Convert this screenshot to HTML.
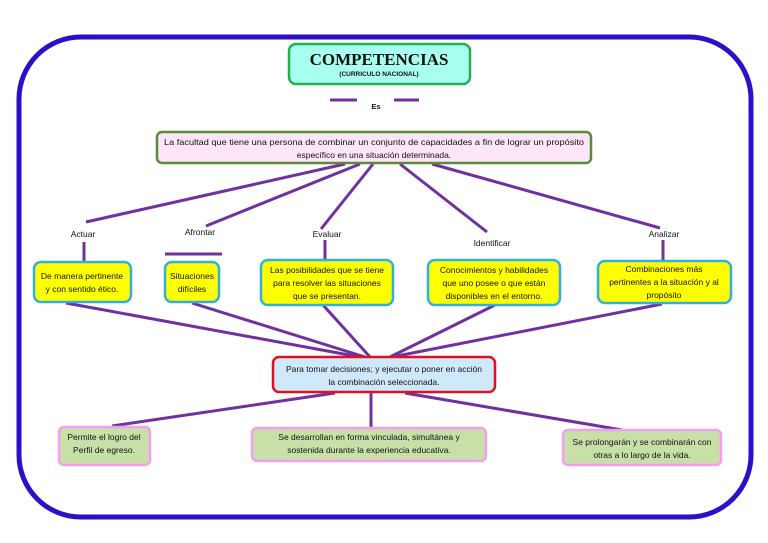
<!DOCTYPE html>
<html><head><meta charset="utf-8"><style>
html,body{margin:0;padding:0;background:#fff;}
svg{display:block;}
text{font-family:"Liberation Sans",sans-serif;font-size:8.5px;fill:#111;text-anchor:middle;}
.b{font-weight:bold;}
</style></head><body>
<svg width="768" height="543" viewBox="0 0 768 543" xmlns="http://www.w3.org/2000/svg">
<rect x="19" y="37" width="732" height="480" rx="62" fill="#fff" stroke="#2a10c8" stroke-width="5"/>
<g stroke="#7030a0" stroke-width="3" fill="none">
<line x1="330" y1="100" x2="357" y2="100"/><line x1="394" y1="100" x2="419" y2="100"/>
<line x1="345" y1="164" x2="86" y2="222"/>
<line x1="360" y1="164" x2="206" y2="226"/>
<line x1="373" y1="164" x2="321" y2="229"/>
<line x1="400" y1="164" x2="487" y2="232"/>
<line x1="432" y1="164" x2="660" y2="228"/>
<line x1="84" y1="242" x2="84" y2="261"/>
<line x1="325" y1="240" x2="325" y2="259"/>
<line x1="663" y1="240" x2="663" y2="260"/>
<line x1="165" y1="254" x2="222" y2="254"/>
<line x1="66" y1="303" x2="360" y2="357"/>
<line x1="192" y1="303" x2="365" y2="357"/>
<line x1="323" y1="305" x2="370" y2="357"/>
<line x1="495" y1="305" x2="390" y2="357"/>
<line x1="662" y1="304" x2="392" y2="357"/>
<line x1="335" y1="393" x2="112" y2="426"/>
<line x1="371" y1="393" x2="371" y2="427"/>
<line x1="405" y1="393" x2="622" y2="430"/>
</g>
<rect x="289" y="44" width="181" height="40" rx="7" fill="#a8fff0" stroke="#20b050" stroke-width="2.5"/>
<text x="379" y="65" style="font-family:'Liberation Serif',serif;font-size:17px;font-weight:bold">COMPETENCIAS</text>
<text x="379" y="76" class="b" style="font-size:6.5px">(CURRICULO NACIONAL)</text>
<text x="376" y="109" class="b" style="font-size:7.5px">Es</text>
<rect x="157" y="132" width="434" height="31" rx="5" fill="#fde6f8" stroke="#5a8a3a" stroke-width="2.5"/>
<text x="374" y="145" textLength="420" lengthAdjust="spacingAndGlyphs">La facultad que tiene una persona de combinar un conjunto de capacidades a fin de lograr un propósito</text>
<text x="374" y="158">específico en una situación determinada.</text>
<text x="83" y="237">Actuar</text>
<text x="200" y="235">Afrontar</text>
<text x="327" y="237">Evaluar</text>
<text x="492" y="246">Identificar</text>
<text x="664" y="237">Analizar</text>
<g fill="#ffff00" stroke="#30b0e0" stroke-width="2.5">
<rect x="34" y="262" width="97" height="40" rx="7"/>
<rect x="165" y="262" width="54" height="40" rx="7"/>
<rect x="261" y="260" width="132" height="45" rx="7"/>
<rect x="428" y="260" width="132" height="45" rx="7"/>
<rect x="598" y="261" width="133" height="42" rx="7"/>
</g>
<text x="82" y="279">De manera pertinente</text>
<text x="82" y="292">y con sentido ético.</text>
<text x="192" y="279">Situaciones</text>
<text x="192" y="292">difíciles</text>
<text x="327" y="273">Las posibilidades que se tiene</text>
<text x="327" y="286">para resolver las situaciones</text>
<text x="327" y="299">que se presentan.</text>
<text x="494" y="273">Conocimientos y habilidades</text>
<text x="494" y="286">que uno posee o que están</text>
<text x="494" y="299">disponibles en el entorno.</text>
<text x="664" y="272">Combinaciones más</text>
<text x="664" y="285">pertinentes a la situación y al</text>
<text x="664" y="298">propósito</text>
<rect x="273" y="357" width="222" height="35" rx="6" fill="#cfe8fa" stroke="#e01020" stroke-width="2.5"/>
<text x="384" y="372">Para tomar decisiones; y ejecutar o poner en acción</text>
<text x="384" y="385">la combinación seleccionada.</text>
<g fill="#c8e0a8" stroke="#f0a0f0" stroke-width="2.5">
<rect x="59" y="427" width="91" height="38" rx="5"/>
<rect x="252" y="428" width="234" height="33" rx="5"/>
<rect x="563" y="430" width="158" height="35" rx="5"/>
</g>
<text x="104" y="440">Permite el logro del</text>
<text x="104" y="453">Perfil de egreso.</text>
<text x="369" y="440">Se desarrollan en forma vinculada, simultánea y</text>
<text x="369" y="453">sostenida durante la experiencia educativa.</text>
<text x="642" y="445">Se prolongarán y se combinarán con</text>
<text x="642" y="458">otras a lo largo de la vida.</text>
</svg>
</body></html>
